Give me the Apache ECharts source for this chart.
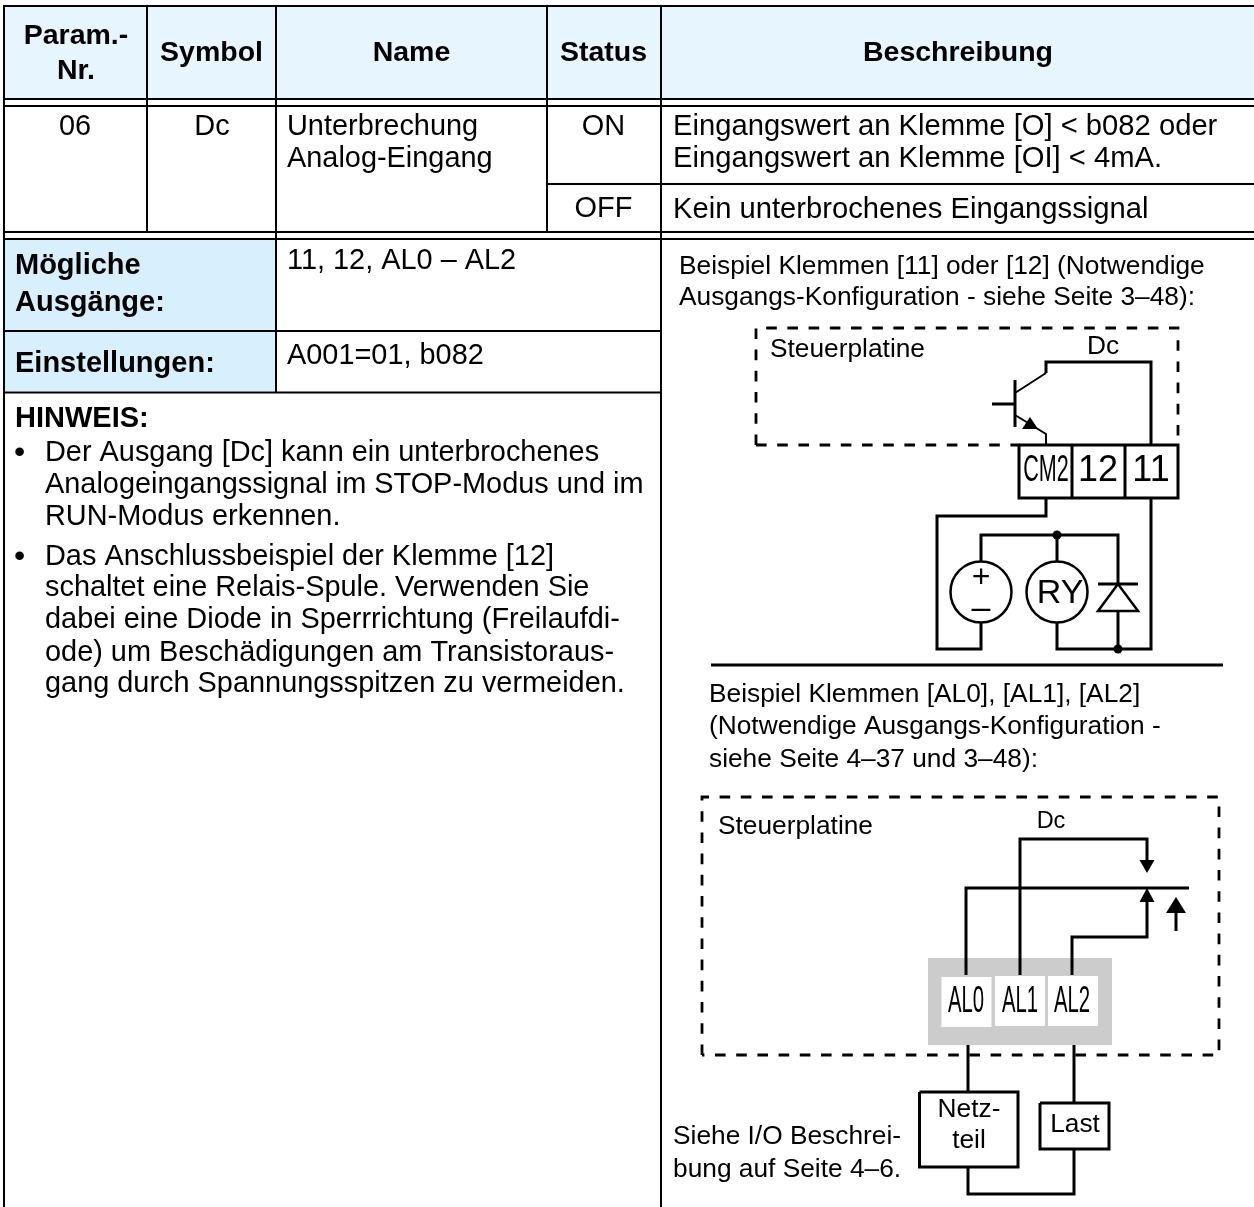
<!DOCTYPE html>
<html><head><meta charset="utf-8">
<script src="https://cdn.jsdelivr.net/npm/echarts@6/dist/echarts.min.js"></script>
<style>html,body{margin:0;padding:0;background:#fff}#c{width:1254px;height:1207px}</style>
</head><body><div id="c"></div>
<script>
const headerLabels = ['Param.-','Nr.','Symbol','Name','Status','Beschreibung'];
const rowCells = ['06','Dc','Unterbrechung','Analog-Eingang','ON','OFF'];
const statusText = ['Eingangswert an Klemme [O] < b082 oder','Eingangswert an Klemme [OI] < 4mA.','Kein unterbrochenes Eingangssignal'];
const sideLabels = ['Mögliche','Ausgänge:','Einstellungen:'];
const sideValues = ['11, 12, AL0 – AL2','A001=01, b082'];
const noteTitle = 'HINWEIS:';
const noteLines = ['Der Ausgang [Dc] kann ein unterbrochenes','Analogeingangssignal im STOP-Modus und im','RUN-Modus erkennen.','Das Anschlussbeispiel der Klemme [12]','schaltet eine Relais-Spule. Verwenden Sie','dabei eine Diode in Sperrrichtung (Freilaufdi-','ode) um Beschädigungen am Transistoraus-','gang durch Spannungsspitzen zu vermeiden.'];
const exampleOne = ['Beispiel Klemmen [11] oder [12] (Notwendige','Ausgangs-Konfiguration - siehe Seite 3–48):'];
const exampleTwo = ['Beispiel Klemmen [AL0], [AL1], [AL2]','(Notwendige Ausgangs-Konfiguration -','siehe Seite 4–37 und 3–48):'];
const boardLabel = 'Steuerplatine';
const outputLabel = 'Dc';
const terminalsOne = ['CM2','12','11'];
const terminalsTwo = ['AL0','AL1','AL2'];
const relayLabel = 'RY';
const supplyLabel = ['Netz-','teil'];
const loadLabel = 'Last';
const seeAlso = ['Siehe I/O Beschrei-','bung auf Seite 4–6.'];

const FONT = '"Liberation Sans", Arial, sans-serif';
const INK = '#000';
const W = 1254, H = 1207;

// table rules and fills, in page units of the hidden axes
const tableFills = [
  {r:[5,7,W,98], c:'#e6f5fe'},
  {r:[5,240,275,330], c:'#d8effd'},
  {r:[5,332,275,391], c:'#d8effd'},
];
const tableRules = [
  [[4,6],[W,6]],[[4,99],[W,99]],[[4,106],[W,106]],[[547,184],[W,184]],
  [[4,232],[W,232]],[[4,239],[W,239]],[[4,331],[661,331]],[[4,392.5],[661,392.5]],
  [[4,5],[4,H]],[[147,6],[147,232]],[[276,6],[276,392]],[[547,6],[547,232]],[[661,5],[661,H]],
];
const wires = [
  [[711,665],[1223,665]],
  // transistor circuit
  [[1046,373],[1046,362],[1151,362],[1151,445]],
  [[1151,498],[1151,649],[1057,649],[1057,623]],
  [[1015,380],[1015,427]],[[992,404],[1015,404]],
  [[1046,498],[1046,516],[937,516],[937,649],[981,649],[981,623]],
  [[981,561],[981,535],[1118,535],[1118,611]],[[1057,535],[1057,561]],[[1118,611],[1118,649]],
  [[1098,584],[1138,584]],
  [[1019,445],[1178,445],[1178,498],[1019,498],[1019,445]],[[1072,445],[1072,498]],[[1125,445],[1125,498]],
  // relay contact circuit
  [[1020,975],[1020,839],[1147,839],[1147,862]],
  [[966,975],[966,888],[1189,888]],
  [[1072,975],[1072,937],[1147,937],[1147,900]],
  [[1176,910],[1176,931]],
  [[968,1045],[968,1092]],[[1074,1045],[1074,1103]],
  [[919.5,1092],[1018,1092],[1018,1167],[919.5,1167],[919.5,1092]],
  [[1040,1103],[1109,1103],[1109,1149],[1040,1149],[1040,1103]],
  [[968,1167],[968,1194],[1074,1194],[1074,1149]],
];
const thinWires = [
  [[1046,373],[1015,393]],
  [[1015,415],[1046,434],[1046,445]],
];
const dashedBoards = [
  [[756,445],[756,328],[1178,328],[1178,445]],
  [[756,445],[1020,445]],
  [[702,1055],[702,797],[1219,797],[1219,1055],[702,1055]],
];
const circles = [[981,592,30.5],[1057,592,30.5]];
const dots = [[1057,535,4.5],[1118,649,4.5]];
const arrowHeads = [
  [[1118,584],[1098,611],[1138,611]],
  [[1030,417],[1022,429],[1038,429]],
  [[1147,873],[1139.5,860],[1154.5,860]],
  [[1147,888],[1139.5,902],[1154.5,902]],
  [[1176,897],[1166,913],[1186,913]],
];
const blocks = [
  {r:[928,958,1112,1045], c:'#cccccc'},
  {r:[941.5,977,991.5,1027], c:'#ffffff'},
  {r:[995,976,1045,1026], c:'#ffffff'},
  {r:[1048,976,1098,1026], c:'#ffffff'},
];

const texts = [];
const put = (s,x,y,size,opt) => texts.push(Object.assign({s,x,y:y+1.5,size,align:'left',weight:'normal',sx:1},opt||{}));
const BOLD = {weight:'bold',align:'center'}, MID = {align:'center'};
const HB = 28.5, LB = 29, BODY = 28.9, STATUS = 29.2, SMALL = 26.3;
put(headerLabels[0],76,35,HB,BOLD); put(headerLabels[1],76,70,HB,BOLD);
put(headerLabels[2],211.5,52,HB,BOLD); put(headerLabels[3],411.5,52,HB,BOLD);
put(headerLabels[4],603.5,52,HB,BOLD); put(headerLabels[5],958,52,HB,BOLD);
put(rowCells[0],75,126,BODY,MID); put(rowCells[1],212,126,BODY,MID);
put(rowCells[2],287,126,BODY); put(rowCells[3],287,158,BODY);
put(rowCells[4],603.5,126,BODY,MID); put(rowCells[5],603.5,208,BODY,MID);
put(statusText[0],673,125,STATUS); put(statusText[1],673,157,STATUS); put(statusText[2],673,208,STATUS);
put(sideLabels[0],15,264,LB,{weight:'bold'}); put(sideLabels[1],15,301,LB,{weight:'bold'}); put(sideLabels[2],15,362,LB,{weight:'bold'});
put(sideValues[0],287,260,BODY); put(sideValues[1],287,355,BODY);
put(noteTitle,15,417,LB,{weight:'bold'});
[452,484,516,556,587,619,652,683].forEach((y,i)=>put(noteLines[i],45,y,BODY));
put('•',14,452,32); put('•',14,556,32);
put(exampleOne[0],679,265,SMALL); put(exampleOne[1],679,296,SMALL);
[693,725,758].forEach((y,i)=>put(exampleTwo[i],709,y,SMALL));
put(boardLabel,770,348,SMALL); put(outputLabel,1103,345,SMALL,MID);
put(terminalsOne[0],1046,470,36,{align:'center',sx:0.6}); put(terminalsOne[1],1098,470,36,MID); put(terminalsOne[2],1151,470,36,MID);
put(relayLabel,1060,592,34,MID);
put('+',981,577,32,MID); put('–',981,607,34,MID);
put(boardLabel,718,825,SMALL); put(outputLabel,1051,820,23.5,MID);
put(terminalsTwo[0],966,1000,37,{align:'center',sx:0.55}); put(terminalsTwo[1],1020,1000,37,{align:'center',sx:0.55}); put(terminalsTwo[2],1072,1000,37,{align:'center',sx:0.55});
put(supplyLabel[0],969,1108,SMALL,MID); put(supplyLabel[1],969,1139,SMALL,MID); put(loadLabel,1075,1123,SMALL,MID);
put(seeAlso[0],673,1135,SMALL); put(seeAlso[1],673,1168,SMALL);

const pts = (api,list) => list.map(p=>api.coord(p));
const rectOf = (api,r) => { const a=api.coord([r[0],r[1]]), b=api.coord([r[2],r[3]]); return {x:a[0],y:a[1],width:b[0]-a[0],height:b[1]-a[1]}; };
const layer = (name,list,draw,z) => ({type:'custom',name,coordinateSystem:'cartesian2d',silent:true,z,animation:false,clip:false,
  data:list.map(()=>[0,0]),renderItem:(p,api)=>draw(list[p.dataIndex],api)});
const line = (w,dash) => (d,api)=>({type:'polyline',shape:{points:pts(api,d)},style:{stroke:INK,lineWidth:w,fill:null,lineDash:dash||null,lineCap:'butt',lineJoin:'miter'}});
const fillBox = (d,api)=>({type:'rect',shape:rectOf(api,d.r),style:{fill:d.c}});

const chart = echarts.init(document.getElementById('c'),null,{renderer:'canvas'});
chart.setOption({
  animation:false,backgroundColor:'#fff',
  grid:{left:0,right:0,top:0,bottom:0},
  xAxis:{type:'value',min:0,max:W,show:false},
  yAxis:{type:'value',min:0,max:H,inverse:true,show:false},
  series:[
    layer('fills',tableFills,fillBox,1),
    layer('rules',tableRules,line(2),2),
    layer('blocks',blocks,fillBox,3),
    layer('dashes',dashedBoards,line(2.8,[10.6,10.6]),4),
    layer('wires',wires,line(3),5),
    layer('thin',thinWires,line(2),5),
    layer('circles',circles,(d,api)=>{const c=api.coord([d[0],d[1]]);return {type:'circle',shape:{cx:c[0],cy:c[1],r:api.size([d[2],0])[0]},style:{fill:'#fff',stroke:INK,lineWidth:2.5}};},6),
    layer('dots',dots,(d,api)=>{const c=api.coord([d[0],d[1]]);return {type:'circle',shape:{cx:c[0],cy:c[1],r:api.size([d[2],0])[0]},style:{fill:INK}};},7),
    layer('heads',arrowHeads,(d,api)=>({type:'polygon',shape:{points:pts(api,d)},style:d===arrowHeads[0]?{fill:'#fff',stroke:INK,lineWidth:2.5}:{fill:INK}}),7),
    layer('texts',texts,(d,api)=>{const c=api.coord([d.x,d.y]);return {type:'text',x:c[0],y:c[1],scaleX:d.sx,style:{text:d.s,x:0,y:0,align:d.align,verticalAlign:'middle',fill:INK,font:`${d.weight} ${d.size}px ${FONT}`}};},8),
  ]
});
</script></body></html>
